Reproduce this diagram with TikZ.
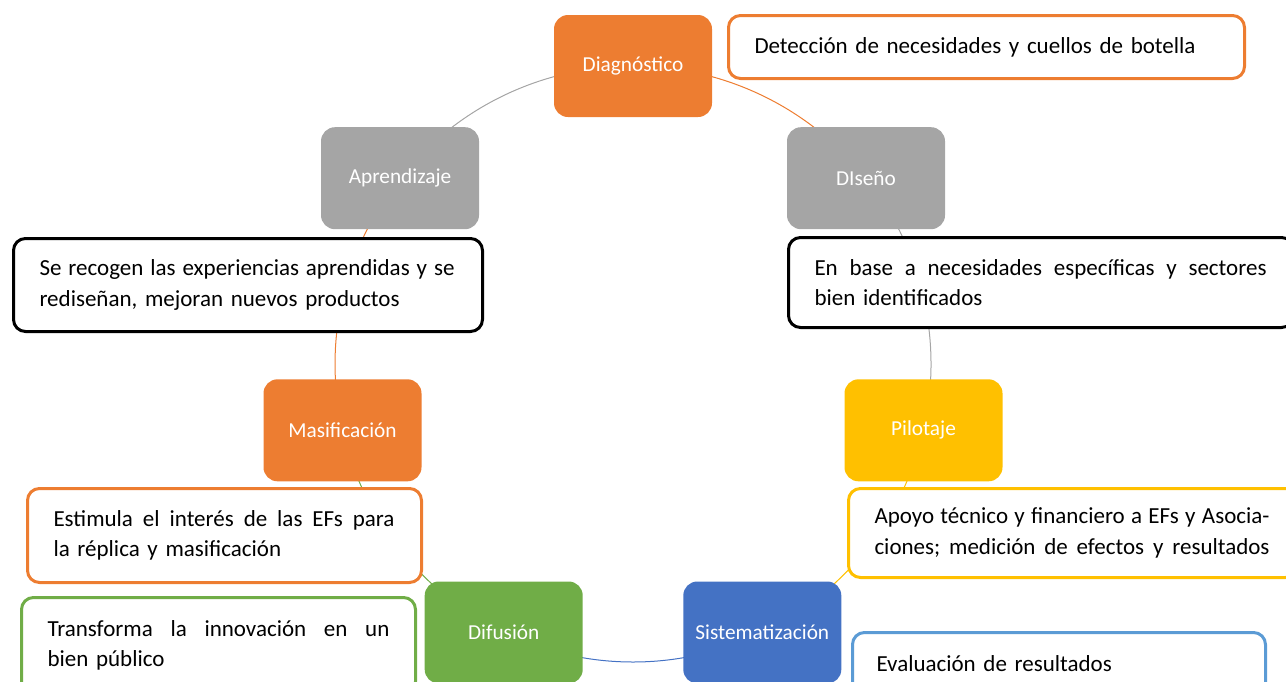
\documentclass[tikz,border=0pt]{standalone}
\usepackage{fontspec}
\setmainfont{Carlito}
\usetikzlibrary{backgrounds}
\definecolor{corange}{HTML}{ED7D31}
\definecolor{cgray}{HTML}{A5A5A5}
\definecolor{cyellow}{HTML}{FFC000}
\definecolor{cblue}{HTML}{4472C4}
\definecolor{cgreen}{HTML}{70AD47}
\definecolor{clblue}{HTML}{5B9BD5}
\begin{document}
\begin{tikzpicture}[x=1pt,y=-1pt,
  stage/.style={minimum width=158pt, minimum height=102pt, rounded corners=14pt, inner sep=0pt, text=white, font=\fontsize{21.3}{24}\selectfont},
  note/.style={draw, line width=3pt, rounded corners=12pt, fill=white, anchor=north west, inner xsep=0pt, inner ysep=0pt, align=left, font=\fontsize{23}{30.5}\selectfont},
  link/.style={line width=1pt}]
\useasboundingbox (0,0) rectangle (1286,681);

% stages
\node[stage, fill=corange] (diag) at (633,66) {Diagnóstico};
\node[stage, fill=cgray] (dis) at (866,178.2) {DIseño};
\node[stage, fill=cyellow] (pil) at (923.5,430.3) {Pilotaje};
\node[stage, fill=cblue] (sis) at (762.3,632.5) {Sistematización};
\node[stage, fill=cgreen] (dif) at (503.7,632.5) {Difusión};
\node[stage, fill=corange] (mas) at (342.5,430.3) {Masificación};
\node[stage, fill=cgray] (apr) at (400,178.2) {Aprendizaje};

% connecting arcs
\begin{scope}[on background layer]
\draw[link, corange] (diag.center) arc[start angle=90, end angle=38.571, radius=298pt];
\draw[link, cgray] (dis.center) arc[start angle=38.571, end angle=-12.857, radius=298pt];
\draw[link, cyellow] (pil.center) arc[start angle=-12.857, end angle=-64.286, radius=298pt];
\draw[link, cblue] (sis.center) arc[start angle=-64.286, end angle=-115.714, radius=298pt];
\draw[link, cgreen] (dif.center) arc[start angle=-115.714, end angle=-167.143, radius=298pt];
\draw[link, corange] (mas.center) arc[start angle=192.857, end angle=141.429, radius=298pt];
\draw[link, cgray] (apr.center) arc[start angle=141.429, end angle=90, radius=298pt];
\end{scope}

% notes
\node[note, draw=corange, minimum width=516pt, minimum height=63pt, text width=464pt] (n1) at (727,14)
  {Detección de necesidades y cuellos de botella};
\node[note, draw=black, minimum width=505pt, minimum height=90pt, text width=453pt] (n2) at (787,236)
  {\hbox to 452pt{En\hfill base\hfill a\hfill necesidades\hfill específicas\hfill y\hfill sectores}\\bien identificados};
\node[note, draw=black, minimum width=469pt, minimum height=93pt, text width=417pt] (n3) at (12,237)
  {\hbox to 415pt{Se\hfill recogen\hfill las\hfill experiencias\hfill aprendidas\hfill y\hfill se}\\rediseñan, mejoran nuevos productos};
\node[note, draw=corange, minimum width=394pt, minimum height=94pt, text width=342pt] (n4) at (26,487)
  {\hbox to 341pt{Estimula\hfill el\hfill interés\hfill de\hfill las\hfill EFs\hfill para}\\la réplica y masificación};
\node[note, draw=cyellow, minimum width=449pt, minimum height=89pt, text width=397pt] (n5) at (847,487)
  {\hbox to 395pt{Apoyo\hfill técnico\hfill y\hfill financiero\hfill a\hfill EFs\hfill y\hfill Asocia-}\\\hbox to 395pt{ciones;\hfill medición\hfill de\hfill efectos\hfill y\hfill resultados}};
\node[note, draw=cgreen, minimum width=394pt, minimum height=96pt, text width=342pt] (n6) at (20,596)
  {\hbox to 342pt{Transforma\hfill la\hfill innovación\hfill en\hfill un}\\bien público};
\node[note, draw=clblue, minimum width=413pt, minimum height=62pt, text width=365pt] (n7) at (851,631)
  {Evaluación de resultados};
\end{tikzpicture}
\end{document}
